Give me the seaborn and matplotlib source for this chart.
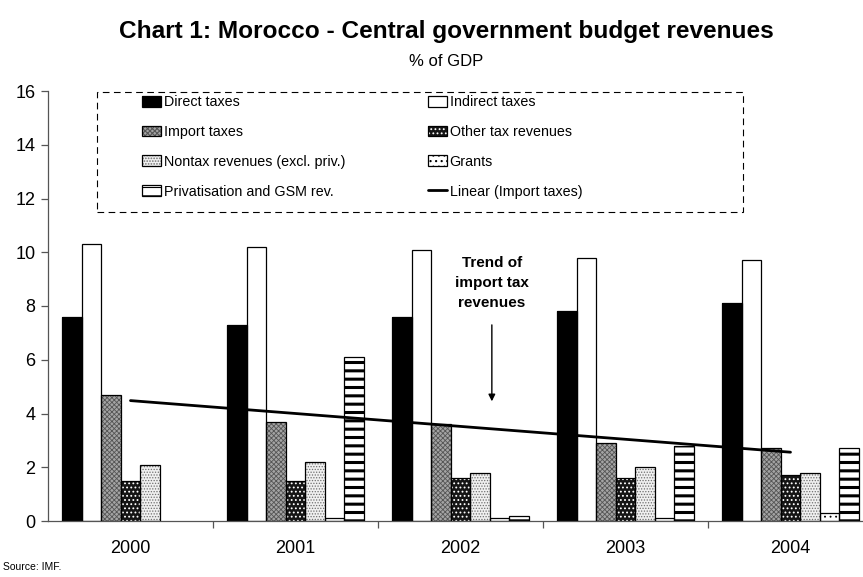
import numpy as np
import pandas as pd
import matplotlib
matplotlib.use("Agg")
import matplotlib.pyplot as plt
from matplotlib.patches import Rectangle, Patch
from matplotlib.lines import Line2D
from matplotlib.legend_handler import HandlerTuple
import seaborn as sns

years = ["2000", "2001", "2002", "2003", "2004"]
series = [
    "Direct taxes",
    "Indirect taxes",
    "Import taxes",
    "Other tax revenues",
    "Nontax revenues (excl. priv.)",
    "Grants",
    "Privatisation and GSM rev.",
]
direct_taxes = [7.6, 7.3, 7.6, 7.8, 8.1]
indirect_taxes = [10.3, 10.2, 10.1, 9.8, 9.7]
import_taxes = [4.7, 3.7, 3.6, 2.9, 2.7]
other_tax = [1.5, 1.5, 1.6, 1.6, 1.7]
nontax = [2.1, 2.2, 1.8, 2.0, 1.8]
grants = [0.0, 0.1, 0.1, 0.1, 0.3]
privatisation = [0.0, 6.1, 0.2, 2.8, 2.7]

values = [direct_taxes, indirect_taxes, import_taxes, other_tax, nontax, grants, privatisation]

sns.set_theme(style="white")
plt.rcParams["font.family"] = ["Liberation Sans", "DejaVu Sans"]
plt.rcParams["text.color"] = "black"
plt.rcParams["hatch.linewidth"] = 0.8

df = pd.DataFrame(
    [(y, s, v) for s, vals in zip(series, values) for y, v in zip(years, vals)],
    columns=["year", "series", "value"],
)

# fill, hatch pattern, hatch colour, hatch linewidth
styles = {
    "Direct taxes": ("black", None, "black", 1.0),
    "Indirect taxes": ("white", None, "black", 1.0),
    "Import taxes": ("#a4a4a4", "xxxxxxx", "#555555", 0.6),
    "Other tax revenues": ("#151515", "....", "white", 0.8),
    "Nontax revenues (excl. priv.)": ("#f0f0f0", "......", "#707070", 0.6),
    "Grants": ("white", "...", "black", 0.6),
    "Privatisation and GSM rev.": ("white", "--", "black", 2.2),
}


def apply_style(p, s):
    fc, hatch, hc, hlw = styles[s]
    p.set_facecolor(fc)
    p.set_edgecolor(hc)
    p.set_linewidth(0)
    if hatch:
        p.set_hatch(hatch)
        if hasattr(p, "set_hatch_linewidth"):
            p.set_hatch_linewidth(hlw)


fig = plt.figure(figsize=(8.63, 5.77), dpi=100)
ax = fig.add_axes([48 / 863, 56 / 577, 825 / 863, 430 / 577])

sns.barplot(
    data=df, x="year", y="value", hue="series", order=years, hue_order=series,
    width=0.83, gap=0, palette=["black"] * len(series), legend=False, ax=ax,
    saturation=1, linewidth=0,
)

bars = list(ax.patches)
n = len(years)
for i, s in enumerate(series):
    for p in bars[i * n:(i + 1) * n]:
        apply_style(p, s)
        if p.get_height() > 0:
            ax.add_patch(Rectangle(p.get_xy(), p.get_width(), p.get_height(),
                                   fill=False, edgecolor="black", linewidth=0.9, zorder=3))

# linear trend of import taxes
xs = np.arange(len(years))
slope, intercept = np.polyfit(xs, import_taxes, 1)
ax.plot([xs[0], xs[-1]], [intercept, intercept + slope * xs[-1]], color="black", lw=2, zorder=4)

ax.set_xlim(-0.5, 4.5)
ax.set_ylim(0, 16)
ax.set_yticks(range(0, 17, 2))
ax.set_xlabel("")
ax.set_ylabel("")
for side in ["top", "right"]:
    ax.spines[side].set_visible(False)
for side in ["left", "bottom"]:
    ax.spines[side].set_color("#555555")
    ax.spines[side].set_linewidth(0.9)

ax.tick_params(axis="y", which="major", left=True, length=5, width=0.9, color="#555555",
               labelsize=13, pad=4, labelcolor="black")
ax.tick_params(axis="x", which="major", bottom=True, length=0, labelsize=13, pad=14,
               labelcolor="black")
ax.set_xticks([0.5, 1.5, 2.5, 3.5], minor=True)
ax.tick_params(axis="x", which="minor", bottom=True, length=5, width=0.9, color="#555555")

# annotation
ax.text(2.19, 8.85, "Trend of\nimport tax\nrevenues", ha="center", va="center",
        fontsize=11, fontweight="bold", linespacing=1.55, color="black")
ax.annotate("", xy=(2.19, 4.35), xytext=(2.19, 7.4),
            arrowprops=dict(arrowstyle="-|>", color="black", lw=1, mutation_scale=10))


# legend: hatched swatch overlaid with a black outline
def handle(s):
    swatch = Patch()
    apply_style(swatch, s)
    outline = Patch(fill=False, edgecolor="black", linewidth=0.9)
    return (swatch, outline)


legend_order = [series[0], series[2], series[4], series[6], series[1], series[3], series[5]]
handles = [handle(s) for s in legend_order] + [Line2D([], [], color="black", lw=2)]
labels = legend_order + ["Linear (Import taxes)"]
leg = ax.legend(handles, labels, ncol=2, loc="upper left",
                bbox_to_anchor=(94 / 825, 0.99), frameon=False, borderaxespad=0,
                borderpad=0, fontsize=10.3, handlelength=1.33, handleheight=0.78,
                handletextpad=0.2, labelspacing=1.1, columnspacing=5.75,
                handler_map={tuple: HandlerTuple(ndivide=1, pad=0)})
for txt in leg.get_texts():
    txt.set_color("black")

ax.add_patch(Rectangle((49 / 825, 0.7186), 646 / 825, 0.279, transform=ax.transAxes,
                       fill=False, edgecolor="black", linewidth=0.8,
                       linestyle=(0, (6, 4)), zorder=5, clip_on=False))

fig.text(0.517, 0.945, "Chart 1: Morocco - Central government budget revenues",
         ha="center", va="center", fontsize=17.6, fontweight="bold", color="black")
fig.text(0.517, 0.893, "% of GDP", ha="center", va="center", fontsize=12, color="black")
fig.text(0.003, 0.017, "Source: IMF.", ha="left", va="center", fontsize=7.5, color="black")

fig.savefig("out.png", dpi=100)
